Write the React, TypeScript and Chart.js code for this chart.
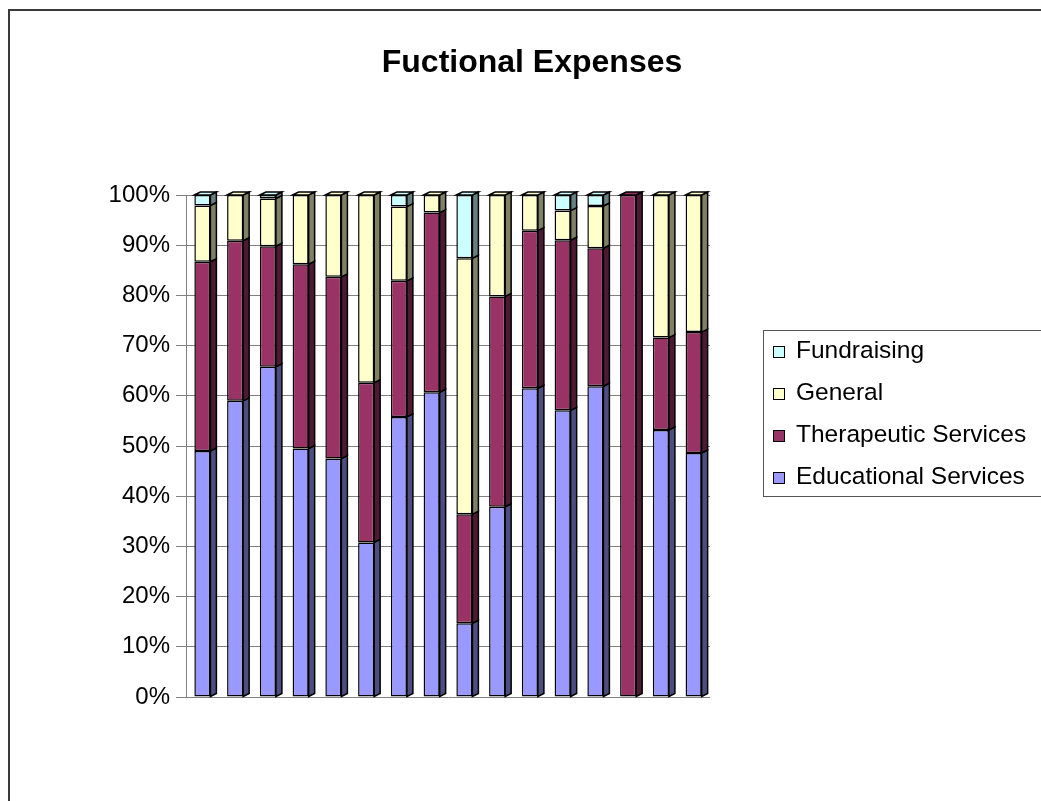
import React, { useEffect, useRef } from "react";
import { Chart, registerables } from "chart.js";

Chart.register(...registerables);

const TITLE = "Fuctional Expenses";
const CATEGORIES = ["1", "2", "3", "4", "5", "6", "7", "8", "9", "10", "11", "12", "13", "14", "15", "16"];
const EDUCATIONAL = [49.0, 59.0, 65.8, 49.5, 47.5, 30.8, 55.8, 60.7, 14.7, 37.9, 61.5, 57.1, 61.9, 0, 53.2, 48.6];
const THERAPEUTIC = [37.7, 31.9, 24.0, 36.7, 36.2, 31.8, 27.1, 35.8, 21.7, 41.9, 31.4, 33.9, 27.5, 100, 18.4, 24.1];
const GENERAL = [11.2, 9.1, 9.5, 13.8, 16.3, 37.4, 14.8, 3.5, 51.0, 20.2, 7.1, 5.9, 8.4, 0, 28.4, 27.3];
const FUNDRAISING = [2.1, 0, 0.7, 0, 0, 0, 2.3, 0, 12.6, 0, 0, 3.1, 2.2, 0, 0, 0];
const Y_TICKS = [0, 10, 20, 30, 40, 50, 60, 70, 80, 90, 100];

const FONT = "Arial, 'Liberation Sans', sans-serif";
const SIDE_COLORS = ["#4d4d80", "#4d1a33", "#808066", "#668080"];

const depthPlugin = {
  id: "depth3d",
  afterDatasetsDraw(chart: any) {
    const ctx = chart.ctx;
    const dx = 6;
    const dy = 3;
    const n = chart.data.labels.length;
    const metas = chart.data.datasets.map((_: any, i: number) => chart.getDatasetMeta(i));
    ctx.save();
    ctx.lineWidth = 1.5;
    ctx.strokeStyle = "#000";
    ctx.lineJoin = "miter";
    for (let i = 0; i < n; i++) {
      let topInfo: any = null;
      metas.forEach((meta: any, d: number) => {
        const el = meta.data[i];
        if (!el) return;
        const p = el.getProps(["x", "y", "base", "width"], true);
        const top = Math.min(p.y, p.base);
        const bottom = Math.max(p.y, p.base);
        if (bottom - top < 0.5) return;
        const r = p.x + p.width / 2;
        ctx.beginPath();
        ctx.moveTo(r, top);
        ctx.lineTo(r + dx, top - dy);
        ctx.lineTo(r + dx, bottom - dy);
        ctx.lineTo(r, bottom);
        ctx.closePath();
        ctx.fillStyle = SIDE_COLORS[d];
        ctx.fill();
        ctx.stroke();
        topInfo = { p, top, d };
      });
      if (topInfo) {
        const { p, top, d } = topInfo;
        const l = p.x - p.width / 2;
        const r = p.x + p.width / 2;
        ctx.beginPath();
        ctx.moveTo(l, top);
        ctx.lineTo(l + dx, top - dy);
        ctx.lineTo(r + dx, top - dy);
        ctx.lineTo(r, top);
        ctx.closePath();
        ctx.fillStyle = chart.data.datasets[d].backgroundColor;
        ctx.fill();
        ctx.stroke();
      }
    }
    ctx.restore();
  },
  afterDraw(chart: any) {
    const ctx = chart.ctx;
    ctx.save();
    // outer frame
    ctx.strokeStyle = "#3a3a3a";
    ctx.lineWidth = 2;
    ctx.strokeRect(9, 10, 1200, 1000);
    // title
    ctx.fillStyle = "#000";
    ctx.font = `bold 32px ${FONT}`;
    ctx.textAlign = "center";
    ctx.textBaseline = "alphabetic";
    ctx.fillText(TITLE, 532, 72);
    // legend
    ctx.strokeStyle = "#555";
    ctx.lineWidth = 1;
    ctx.strokeRect(763.5, 330.5, 400, 166);
    const ds = chart.data.datasets.slice().reverse();
    ctx.font = `24.5px ${FONT}`;
    ctx.textAlign = "left";
    ds.forEach((d: any, i: number) => {
      const base = 358 + i * 42;
      ctx.fillStyle = d.backgroundColor;
      ctx.fillRect(773, base - 12, 11, 11);
      ctx.strokeStyle = "#000";
      ctx.lineWidth = 1;
      ctx.strokeRect(773.5, base - 11.5, 11, 11);
      ctx.fillStyle = "#000";
      ctx.fillText(d.label, 796, base);
    });
    ctx.restore();
  },
};

export default function App() {
  const ref = useRef<HTMLCanvasElement | null>(null);
  useEffect(() => {
    if (!ref.current) return;
    const mk = (label: string, data: number[], color: string) => ({
      label,
      data,
      backgroundColor: color,
      borderColor: "#000",
      borderWidth: 1.5,
      borderSkipped: false,
      barPercentage: 0.49,
      categoryPercentage: 1,
    });
    const chart = new Chart(ref.current, {
      type: "bar",
      data: {
        labels: CATEGORIES,
        datasets: [
          mk("Educational Services", EDUCATIONAL, "#9999ff"),
          mk("Therapeutic Services", THERAPEUTIC, "#993366"),
          mk("General", GENERAL, "#ffffcc"),
          mk("Fundraising", FUNDRAISING, "#ccffff"),
        ],
      },
      options: {
        responsive: false,
        animation: false,
        devicePixelRatio: 1,
        layout: { padding: { top: 195, bottom: 104, left: 0, right: 331 } },
        plugins: { legend: { display: false }, title: { display: false }, tooltip: { enabled: false } },
        scales: {
          x: { stacked: true, display: false },
          y: {
            stacked: true,
            min: 0,
            max: 100,
            afterFit: (s: any) => {
              s.width = 186;
            },
            afterBuildTicks: (s: any) => {
              s.ticks = Y_TICKS.map((v) => ({ value: v }));
            },
            ticks: {
              padding: 6,
              color: "#000",
              font: { family: FONT, size: 24 },
              callback: (v: any) => `${v}%`,
            },
            grid: { color: "#808080", lineWidth: 1, tickLength: 10, tickColor: "#808080" },
            border: { color: "#808080", width: 1 },
          },
        },
      },
      plugins: [depthPlugin],
    });
    return () => chart.destroy();
  }, []);
  return (
    <div style={{ position: "absolute", left: 0, top: 0, width: 1041, height: 801, background: "#fff" }}>
      <canvas ref={ref} width={1041} height={801} />
    </div>
  );
}
